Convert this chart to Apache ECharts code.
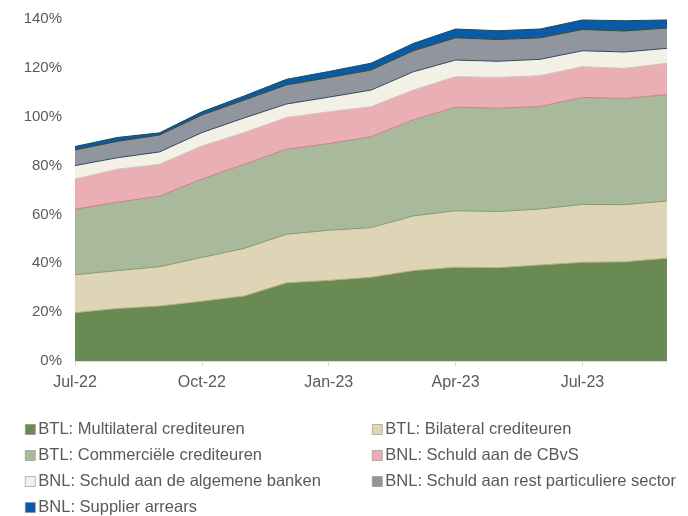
<!DOCTYPE html>
<html>
<head>
<meta charset="utf-8">
<script src="https://cdn.jsdelivr.net/npm/echarts@6/dist/echarts.min.js"></script>
<style>
  html, body { margin: 0; padding: 0; background: #fff; }
  #chart { width: 688px; height: 516px; }
</style>
</head>
<body>
<div id="chart"></div>
<script>
// maanden
const months = ['Jul-22', 'Aug-22', 'Sep-22', 'Oct-22', 'Nov-22', 'Dec-22', 'Jan-23',
  'Feb-23', 'Mar-23', 'Apr-23', 'May-23', 'Jun-23', 'Jul-23', 'Aug-23', 'Sep-23']

const multilateral = [19.8, 21.5, 22.5, 24.5, 26.6, 32.0, 33.0, 34.3, 37.0, 38.4, 38.2, 39.3, 40.4, 40.6, 42.1]
const bilateral = [15.5, 15.5, 16.1, 17.9, 19.5, 19.9, 20.5, 20.3, 22.4, 23.1, 23.0, 22.9, 23.7, 23.4, 23.4]
const commercieel = [26.8, 28.0, 28.9, 32.1, 34.4, 34.8, 35.5, 37.2, 39.3, 42.4, 42.3, 42.0, 43.8, 43.5, 43.5]
const cbvs = [12.4, 13.5, 13.0, 13.5, 13.0, 13.0, 13.0, 12.3, 12.2, 12.5, 12.6, 12.6, 12.6, 12.3, 12.9]
const banken = [5.5, 4.7, 5.1, 5.5, 6.0, 5.5, 6.0, 6.8, 7.5, 6.8, 6.6, 6.7, 6.5, 6.7, 6.1]
const particulier = [6.4, 6.7, 6.9, 7.2, 7.3, 7.8, 8.0, 8.2, 8.6, 9.1, 8.9, 8.8, 8.7, 8.6, 8.3]
const arrears = [1.4, 1.6, 0.9, 1.3, 1.7, 2.3, 2.5, 2.8, 3.0, 3.6, 3.6, 3.6, 3.9, 4.2, 3.3]

const font = 'Liberation Sans, Arial, sans-serif'
const textColor = '#595959'

// reeks bouwen
function layer (name, data, fill, edge) {
  return {
    name: name,
    type: 'line',
    stack: 'total',
    data: data,
    symbol: 'none',
    itemStyle: { color: fill },
    lineStyle: { color: edge, width: 1 },
    areaStyle: { color: fill, opacity: 1 }
  }
}

const series = [
  layer('BTL: Multilateral crediteuren', multilateral, '#6a8a53', '#b9a97a'),
  layer('BTL: Bilateral crediteuren', bilateral, '#ded4b6', '#7e9d6c'),
  layer('BTL: Commerciële crediteuren', commercieel, '#a9ba9c', '#d07d86'),
  layer('BNL: Schuld aan de CBvS', cbvs, '#e9afb4', '#c9c6bc'),
  layer('BNL: Schuld aan de algemene banken', banken, '#f3f1e6', '#2e4a68'),
  layer('BNL: Schuld aan rest particuliere sector', particulier, '#91959e', '#2d4a3a'),
  layer('BNL: Supplier arrears', arrears, '#0a5aaa', '#2d4a3a')
]

// legenda: twee kolommen, één item per legenda
const legendSpots = [[25, 430], [372, 430], [25, 456], [372, 456], [25, 482], [372, 482], [25, 508]]
const legends = series.map((s, i) => ({
  left: legendSpots[i][0],
  top: legendSpots[i][1] - 9,
  padding: 0,
  itemWidth: 10,
  itemHeight: 10,
  itemGap: 0,
  icon: 'rect',
  itemStyle: { borderColor: '#8a8a8a', borderWidth: 0.6 },
  textStyle: { color: textColor, fontSize: 16.5, fontFamily: font, padding: [0, 0, 0, -2] },
  data: [s.name]
}))

const chart = echarts.init(document.getElementById('chart'))
chart.setOption({
  animation: false,
  grid: { left: 75, right: 21, top: 19, bottom: 155 },
  legend: legends,
  xAxis: {
    type: 'category',
    data: months,
    boundaryGap: false,
    axisLine: { lineStyle: { color: '#d9d9d9' } },
    axisTick: { interval: 2, length: 5, lineStyle: { color: '#d9d9d9' } },
    axisLabel: { interval: 2, color: textColor, fontSize: 16, fontFamily: font, margin: 14 }
  },
  yAxis: {
    type: 'value',
    min: 0,
    max: 140,
    interval: 20,
    axisLine: { show: false },
    axisTick: { show: false },
    splitLine: { show: false },
    axisLabel: { formatter: '{value}%', color: textColor, fontSize: 15, fontFamily: font, margin: 13 }
  },
  series: series
})
</script>
</body>
</html>
